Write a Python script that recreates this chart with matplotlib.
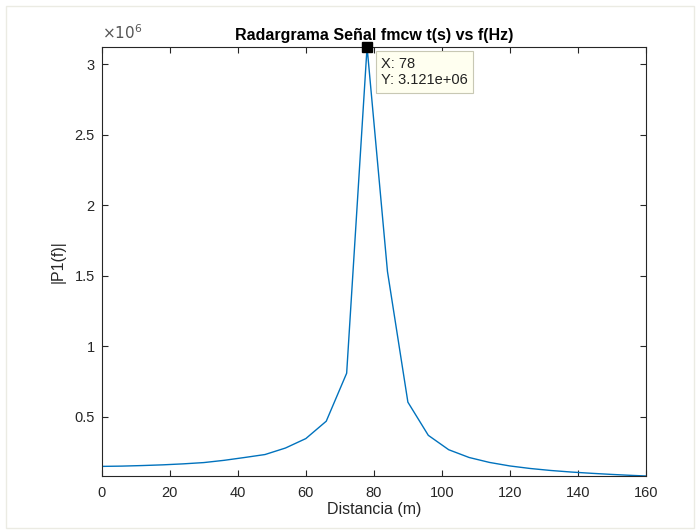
import numpy as np
import matplotlib
matplotlib.use("Agg")
import matplotlib.pyplot as plt
from matplotlib.ticker import FuncFormatter
from matplotlib.patches import Rectangle

# distancia (m) y magnitud |P1(f)|
distancia = [0, 6, 12, 18, 24, 30, 36, 42, 48, 54, 60, 66, 72, 78,
             84, 90, 96, 102, 108, 114, 120, 126, 132, 138, 144, 150, 156, 162]
p1 = [0.150e6, 0.152e6, 0.156e6, 0.161e6, 0.168e6, 0.177e6, 0.193e6, 0.213e6,
      0.234e6, 0.280e6, 0.347e6, 0.470e6, 0.810e6, 3.121e6,
      1.530e6, 0.605e6, 0.370e6, 0.268e6, 0.213e6, 0.178e6, 0.153e6, 0.135e6,
      0.121e6, 0.110e6, 0.101e6, 0.093e6, 0.086e6, 0.080e6]
yticks = [0.5e6, 1e6, 1.5e6, 2e6, 2.5e6, 3e6]
xticks = [0, 20, 40, 60, 80, 100, 120, 140, 160]

plt.rcParams['font.family'] = ['Liberation Sans', 'DejaVu Sans']
axc = '#262626'

fig = plt.figure(figsize=(7.0, 5.31), dpi=100)
fig.patches.append(Rectangle((0.008, 0.006), 0.984, 0.982, transform=fig.transFigure,
                             fill=False, edgecolor='#ebebe3', lw=1.0))
ax = fig.add_axes([0.1453, 0.1036, 0.7776, 0.8079])

ax.plot(distancia, p1, color='#0072BD', lw=1.0)
ax.set_xlim(0, 160)
ax.set_ylim(0.082e6, 3.121e6)
ax.set_xticks(xticks)
ax.set_yticks(yticks)
ax.yaxis.set_major_formatter(FuncFormatter(lambda v, pos: '%g' % (v / 1e6)))
ax.text(0.0, 1.012, r'$\times10^{6}$', transform=ax.transAxes, ha='left', va='bottom',
        fontsize=11, color='#555555')

for s in ax.spines.values():
    s.set_color(axc)
    s.set_linewidth(0.8)
ax.tick_params(direction='in', top=True, right=True, length=4.5, width=0.8,
               colors=axc, labelsize=10.5, labelcolor=axc)
ax.tick_params(axis='x', pad=7)
ax.tick_params(axis='y', pad=5)

ax.set_title('Radargrama Señal fmcw t(s) vs f(Hz)', fontsize=11.5,
             fontweight='bold', color='black', pad=5)
ax.set_xlabel('Distancia (m)', fontsize=11.5, color=axc, labelpad=2)
ax.set_ylabel('|P1(f)|', fontsize=11.5, color=axc, labelpad=6)

# datatip en el máximo
imax = int(np.argmax(p1))
ax.plot(distancia[imax], p1[imax], marker='s', color='black', ms=7,
        clip_on=False, zorder=5)
ax.annotate('X: 78\nY: 3.121e+06', xy=(distancia[imax], p1[imax]),
            xytext=(14, -10), textcoords='offset pixels', ha='left', va='top',
            fontsize=10.5, color='#222222', linespacing=1.2,
            bbox=dict(boxstyle='square,pad=0.38', fc='#fffff0', ec='#c8c8b4', lw=0.8),
            zorder=6)

fig.savefig('out.png', dpi=100)
